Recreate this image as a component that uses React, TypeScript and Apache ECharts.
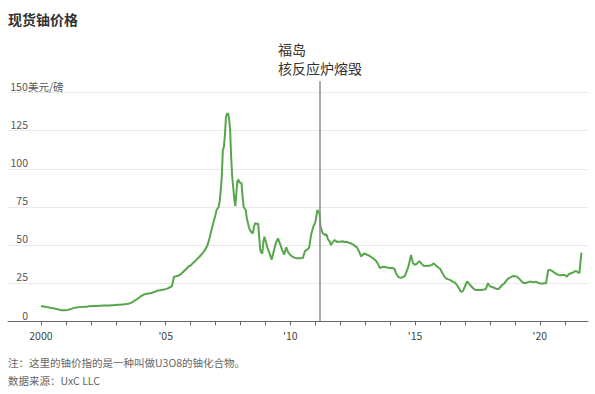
import { useEffect, useRef } from "react";
import * as echarts from "echarts";

const FONT = '"Noto Sans CJK SC", "Noto Sans", sans-serif';
const GREEN = "#57a64b";

const startYear = 2000;
// monthly values (12 per year) or semi-monthly (24 per year), USD per pound
const prices2000 = [9.9, 9.8, 9.6, 9.3, 9.0, 8.7, 8.5, 8.2, 7.9, 7.6, 7.3, 7.2];
const prices2001 = [7.2, 7.5, 7.9, 8.3, 8.8, 9.1, 9.2, 9.3, 9.4, 9.5, 9.6, 9.8];
const prices2002 = [9.9, 10.0, 10.1, 10.1, 10.2, 10.2, 10.3, 10.3, 10.4, 10.4, 10.5, 10.6];
const prices2003 = [10.7, 10.8, 10.9, 11.0, 11.1, 11.3, 11.5, 11.9, 12.6, 13.5, 14.3, 15.3];
const prices2004 = [16.3, 17.2, 17.8, 18.1, 18.3, 18.5, 18.9, 19.5, 20.0, 20.3, 20.5, 20.8];
const prices2005 = [21.1, 21.6, 22.3, 23.0, 29.2, 29.5, 29.9, 30.6, 31.8, 33.2, 34.4, 36.0];
const prices2006 = [36.6, 38.0, 39.2, 40.6, 42.0, 43.5, 45.0, 47.0, 49.5, 54.0, 59.5, 65.0];
const prices2007 = [70, 73, 74, 75, 79, 86, 95, 112, 114.5, 122, 134, 136, 136.4, 133, 126, 108, 95, 88, 80, 75.5, 84, 92, 93, 91];
const prices2008 = [91, 90.5, 82, 75, 74, 73, 68, 65, 62, 60, 59, 58, 58, 62, 64.3, 64, 64, 64, 55, 47, 45, 44.6, 52, 55.5];
const prices2009 = [53, 48, 44.5, 40.5, 46, 51.2, 54.4, 51, 47, 43.8, 48.5, 45];
const prices2010 = [43.5, 42.4, 41.8, 41.3, 41.3, 41.3, 41.5, 46, 47, 48.2, 57, 62];
const prices2011 = [65, 69, 73, 72, 70.8, 62, 60, 57.7, 57.5, 56.6, 57, 56.6, 54, 53, 52.2, 50, 51, 52, 53, 53.3, 52.5, 52, 52.2, 52.2];
const prices2012 = [52.2, 52.5, 52, 52.2, 51.5, 51.2, 50.5, 49.5, 48.5, 46, 42.5, 44];
const prices2013 = [44.5, 43.5, 43, 42, 41, 40, 38, 35, 35.5, 35.8, 35.5, 35.2];
const prices2014 = [35, 35, 34.5, 31, 29, 28.5, 28.9, 29.7, 33, 37, 43.5, 38];
const prices2015 = [37, 38, 39.5, 38, 36.5, 36.3, 36.5, 36.5, 37, 38, 36.5, 35.5];
const prices2016 = [34.5, 32, 29.5, 28, 27.5, 27, 26, 25.5, 24, 22, 19.3, 19.8];
const prices2017 = [23, 26.2, 24.5, 23, 21.5, 20.5, 20.5, 20.5, 20.5, 20.8, 21, 25];
const prices2018 = [23, 22.5, 22, 21.3, 21, 22.5, 24, 24.9, 27, 28.2, 29, 29.7];
const prices2019 = [29.5, 29.3, 28, 26.5, 25.3, 25, 25.5, 26, 26, 25.5, 26, 25.3];
const prices2020 = [24.9, 24.7, 24.9, 25, 33.6, 33.6, 33, 31.9, 31, 30.4, 30.2, 30.4];
const prices2021 = [30.4, 29.3, 31, 31.5, 32, 33, 32.5, 31.5, 45];

const yearlyPrices = [
  prices2000, prices2001, prices2002, prices2003, prices2004, prices2005,
  prices2006, prices2007, prices2008, prices2009, prices2010, prices2011,
  prices2012, prices2013, prices2014, prices2015, prices2016, prices2017,
  prices2018, prices2019, prices2020, prices2021,
];

const tickYears = [2000, 2001, 2002, 2003, 2004, 2005, 2006, 2007, 2008, 2009, 2010, 2011, 2012, 2013, 2014, 2015, 2016, 2017, 2018, 2019, 2020, 2021];
const labelYears = [2000, 2005, 2010, 2015, 2020];
const yUnit = "美元/磅";
const yTopLabel = 150;
const fukushimaDate = 2011 + (2 + 10 / 31) / 12; // 2011-03-11

const titleText = "现货铀价格";
const eventText = "福岛\n核反应炉熔毁";
const noteText = "注：这里的铀价指的是一种叫做U3O8的铀化合物。";
const sourceText = "数据来源：UxC LLC";

export default function App() {
  const ref = useRef<HTMLDivElement>(null);
  useEffect(() => {
    if (!ref.current) return;
    const chart = echarts.init(ref.current, null, { renderer: "svg" });
    const data: number[][] = [];
    yearlyPrices.forEach((arr, i) => {
      const step = arr.length > 12 ? 1 / 24 : 1 / 12;
      arr.forEach((v, j) => data.push([startYear + i + j * step, v]));
    });
    const yMax = 157.5;
    chart.setOption({
      animation: false,
      textStyle: { fontFamily: FONT },
      title: {
        text: titleText,
        left: 8,
        top: 12,
        padding: 0,
        textStyle: { fontSize: 14, fontWeight: "bold", color: "#333", fontFamily: FONT },
      },
      grid: { left: 8, right: 7, top: 81.2, bottom: 72.7, containLabel: false },
      xAxis: {
        type: "value",
        min: 1998.68,
        max: 2021.93,
        axisLine: { show: true, onZero: false, lineStyle: { color: "#666", width: 1 } },
        axisTick: { show: true, length: 4, customValues: tickYears, lineStyle: { color: "#666" } },
        axisLabel: {
          customValues: labelYears,
          color: "#444",
          fontSize: 10.5,
          margin: 9,
          fontFamily: FONT,
          formatter: (v: number) => (v === 2000 ? "2000" : "'" + String(v).slice(2)),
        },
        splitLine: { show: false },
      },
      yAxis: {
        type: "value",
        min: 0,
        max: yMax,
        interval: 25,
        axisLine: { show: false },
        axisTick: { show: false },
        splitLine: { show: true, showMaxLine: false, lineStyle: { color: "#e9e9e9", width: 1 } },
        axisLabel: {
          inside: true,
          margin: 2,
          verticalAlign: "bottom",
          showMaxLabel: false,
          color: "#555",
          fontSize: 10.5,
          fontFamily: FONT,
          padding: [0, 0, 1, 0],
          formatter: (v: number) => {
            if (v % 25 !== 0) return "";
            return v === yTopLabel ? `{n|${v}}{u|${yUnit}}` : `{n|${v}}`;
          },
          rich: {
            n: { width: 18, align: "right", color: "#555", fontSize: 10.5, fontFamily: FONT },
            u: { color: "#555", fontSize: 10.5, fontFamily: FONT },
          },
        },
      },
      series: [
        {
          type: "line",
          data,
          showSymbol: false,
          smooth: false,
          lineStyle: { color: GREEN, width: 2 },
          itemStyle: { color: GREEN },
          markLine: {
            silent: true,
            symbol: "none",
            label: { show: false },
            lineStyle: { color: "#8c8c8c", width: 1.5, type: "solid" },
            data: [[{ coord: [fukushimaDate, 0] }, { coord: [fukushimaDate, yMax] }]],
          },
          z: 3,
        },
      ],
      graphic: [
        {
          type: "text",
          x: 278,
          y: 40,
          style: {
            text: eventText,
            fill: "#333",
            fontSize: 14,
            fontFamily: FONT,
            lineHeight: 18.5,
            align: "left",
            verticalAlign: "top",
          },
        },
        {
          type: "text",
          x: 8,
          y: 362,
          style: { text: noteText, fill: "#666", fontSize: 10.5, fontFamily: FONT, align: "left", verticalAlign: "middle" },
        },
        {
          type: "text",
          x: 8,
          y: 380,
          style: { text: sourceText, fill: "#666", fontSize: 10.5, fontFamily: FONT, align: "left", verticalAlign: "middle" },
        },
      ],
    });
    return () => chart.dispose();
  }, []);
  return <div ref={ref} style={{ position: "fixed", left: 0, top: 0, width: 595, height: 394, background: "#fff" }} />;
}
